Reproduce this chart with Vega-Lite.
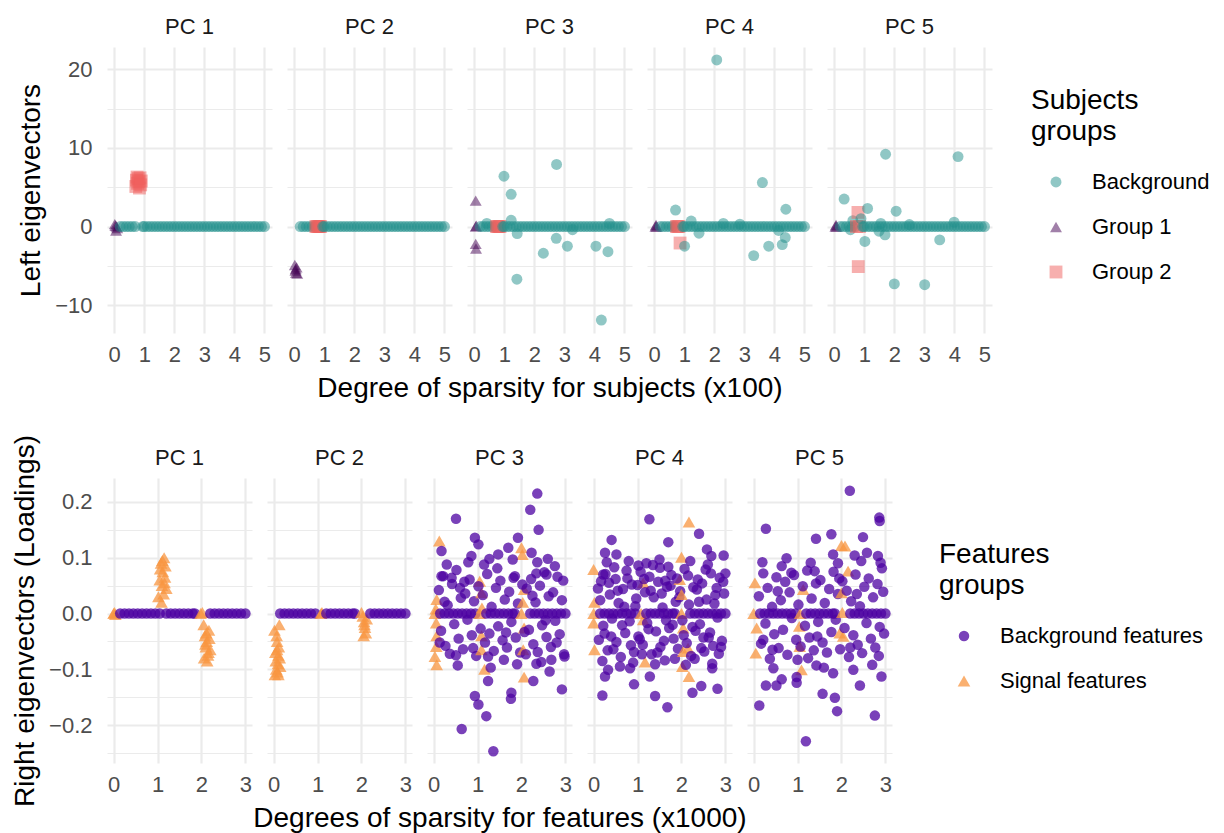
{
"$schema":"https://vega.github.io/schema/vega-lite/v6.json",
"background":"white",
"padding":{"left":11,"top":16,"right":5,"bottom":0},
"config":{
"font":"Liberation Sans",
"view":{"stroke":null},
"axis":{"domain":false,"ticks":false,"tickSize":0,"labelFont":"Liberation Sans","labelFontSize":22,"labelColor":"#4D4D4D","labelPadding":11,"titleFont":"Liberation Sans","titleFontSize":28,"titleFontWeight":"normal","titleColor":"#000000","gridColor":"#EBEBEB","labelOverlap":false},
"axisY":{"labelPadding":15,"titlePadding":9},
"header":{"labelFont":"Liberation Sans","labelFontSize":22,"labelColor":"#1A1A1A","labelPadding":-14,"labelBaseline":"bottom","titleFont":"Liberation Sans","titleFontSize":28,"titleFontWeight":"normal","titleColor":"#000000","titleOrient":"bottom","labelOrient":"top","titlePadding":0},
"legend":{"titleFont":"Liberation Sans","titleFontSize":28,"titleFontWeight":"normal","titleColor":"#000000","titleLineHeight":31,"labelFont":"Liberation Sans","labelFontSize":22,"labelColor":"#000000","labelLimit":300,"symbolSize":110,"rowPadding":23,"titlePadding":25,"symbolOffset":14,"labelOffset":25,"symbolStrokeWidth":0}
},
"columns":1,
"align":"none",
"spacing":31,
"resolve":{"scale":{"color":"independent","shape":"independent","size":"independent"}},
"concat":[
{
"data":{"values":[
{"p":"PC 1","x":0.02,"y":0.3,"c":"1"},{"p":"PC 1","x":0.04,"y":0.1,"c":"1"},{"p":"PC 1","x":0.06,"y":-0.5,"c":"1"},{"p":"PC 1","x":0.08,"y":0,"c":"1"},{"p":"PC 1","x":0.1,"y":-0.2,"c":"1"},
{"p":"PC 1","x":0.2,"y":0,"c":"B"},{"p":"PC 1","x":0.3,"y":0,"c":"B"},{"p":"PC 1","x":0.4,"y":0,"c":"B"},{"p":"PC 1","x":0.5,"y":0,"c":"B"},{"p":"PC 1","x":0.6,"y":0,"c":"B"},{"p":"PC 1","x":0.7,"y":0,"c":"B"},
{"p":"PC 1","x":0.72,"y":5.1,"c":"2"},{"p":"PC 1","x":0.74,"y":5.9,"c":"2"},{"p":"PC 1","x":0.76,"y":6.3,"c":"2"},{"p":"PC 1","x":0.78,"y":5.5,"c":"2"},{"p":"PC 1","x":0.8,"y":6.1,"c":"2"},{"p":"PC 1","x":0.82,"y":5.7,"c":"2"},{"p":"PC 1","x":0.84,"y":4.9,"c":"2"},{"p":"PC 1","x":0.86,"y":6.2,"c":"2"},{"p":"PC 1","x":0.88,"y":5.3,"c":"2"},{"p":"PC 1","x":0.9,"y":5.8,"c":"2"},
{"p":"PC 1","x":0.95,"y":0,"c":"B"},{"p":"PC 1","x":1,"y":0,"c":"B"},{"p":"PC 1","x":1.1,"y":0,"c":"B"},{"p":"PC 1","x":1.2,"y":0,"c":"B"},{"p":"PC 1","x":1.3,"y":0,"c":"B"},{"p":"PC 1","x":1.4,"y":0,"c":"B"},{"p":"PC 1","x":1.5,"y":0,"c":"B"},{"p":"PC 1","x":1.6,"y":0,"c":"B"},{"p":"PC 1","x":1.7,"y":0,"c":"B"},{"p":"PC 1","x":1.8,"y":0,"c":"B"},{"p":"PC 1","x":1.9,"y":0,"c":"B"},{"p":"PC 1","x":2,"y":0,"c":"B"},{"p":"PC 1","x":2.1,"y":0,"c":"B"},{"p":"PC 1","x":2.2,"y":0,"c":"B"},{"p":"PC 1","x":2.3,"y":0,"c":"B"},{"p":"PC 1","x":2.4,"y":0,"c":"B"},{"p":"PC 1","x":2.5,"y":0,"c":"B"},{"p":"PC 1","x":2.6,"y":0,"c":"B"},{"p":"PC 1","x":2.7,"y":0,"c":"B"},{"p":"PC 1","x":2.8,"y":0,"c":"B"},{"p":"PC 1","x":2.9,"y":0,"c":"B"},{"p":"PC 1","x":3,"y":0,"c":"B"},{"p":"PC 1","x":3.1,"y":0,"c":"B"},{"p":"PC 1","x":3.2,"y":0,"c":"B"},{"p":"PC 1","x":3.3,"y":0,"c":"B"},{"p":"PC 1","x":3.4,"y":0,"c":"B"},{"p":"PC 1","x":3.5,"y":0,"c":"B"},{"p":"PC 1","x":3.6,"y":0,"c":"B"},{"p":"PC 1","x":3.7,"y":0,"c":"B"},{"p":"PC 1","x":3.8,"y":0,"c":"B"},{"p":"PC 1","x":3.9,"y":0,"c":"B"},{"p":"PC 1","x":4,"y":0,"c":"B"},{"p":"PC 1","x":4.1,"y":0,"c":"B"},{"p":"PC 1","x":4.2,"y":0,"c":"B"},{"p":"PC 1","x":4.3,"y":0,"c":"B"},{"p":"PC 1","x":4.4,"y":0,"c":"B"},{"p":"PC 1","x":4.5,"y":0,"c":"B"},{"p":"PC 1","x":4.6,"y":0,"c":"B"},{"p":"PC 1","x":4.7,"y":0,"c":"B"},{"p":"PC 1","x":4.8,"y":0,"c":"B"},{"p":"PC 1","x":4.9,"y":0,"c":"B"},{"p":"PC 1","x":5,"y":0,"c":"B"},
{"p":"PC 2","x":0.02,"y":-4.9,"c":"1"},{"p":"PC 2","x":0.04,"y":-5.6,"c":"1"},{"p":"PC 2","x":0.06,"y":-5.9,"c":"1"},{"p":"PC 2","x":0.08,"y":-5.2,"c":"1"},{"p":"PC 2","x":0.1,"y":-6.0,"c":"1"},{"p":"PC 2","x":0.05,"y":-5.4,"c":"1"},
{"p":"PC 2","x":0.2,"y":0,"c":"B"},{"p":"PC 2","x":0.3,"y":0,"c":"B"},{"p":"PC 2","x":0.4,"y":0,"c":"B"},{"p":"PC 2","x":0.5,"y":0,"c":"B"},{"p":"PC 2","x":0.6,"y":0,"c":"B"},{"p":"PC 2","x":0.7,"y":0,"c":"B"},
{"p":"PC 2","x":0.72,"y":0,"c":"2"},{"p":"PC 2","x":0.76,"y":0,"c":"2"},{"p":"PC 2","x":0.8,"y":0,"c":"2"},{"p":"PC 2","x":0.84,"y":0,"c":"2"},{"p":"PC 2","x":0.88,"y":0,"c":"2"},
{"p":"PC 2","x":0.95,"y":0,"c":"B"},{"p":"PC 2","x":1,"y":0,"c":"B"},{"p":"PC 2","x":1.1,"y":0,"c":"B"},{"p":"PC 2","x":1.2,"y":0,"c":"B"},{"p":"PC 2","x":1.3,"y":0,"c":"B"},{"p":"PC 2","x":1.4,"y":0,"c":"B"},{"p":"PC 2","x":1.5,"y":0,"c":"B"},{"p":"PC 2","x":1.6,"y":0,"c":"B"},{"p":"PC 2","x":1.7,"y":0,"c":"B"},{"p":"PC 2","x":1.8,"y":0,"c":"B"},{"p":"PC 2","x":1.9,"y":0,"c":"B"},{"p":"PC 2","x":2,"y":0,"c":"B"},{"p":"PC 2","x":2.1,"y":0,"c":"B"},{"p":"PC 2","x":2.2,"y":0,"c":"B"},{"p":"PC 2","x":2.3,"y":0,"c":"B"},{"p":"PC 2","x":2.4,"y":0,"c":"B"},{"p":"PC 2","x":2.5,"y":0,"c":"B"},{"p":"PC 2","x":2.6,"y":0,"c":"B"},{"p":"PC 2","x":2.7,"y":0,"c":"B"},{"p":"PC 2","x":2.8,"y":0,"c":"B"},{"p":"PC 2","x":2.9,"y":0,"c":"B"},{"p":"PC 2","x":3,"y":0,"c":"B"},{"p":"PC 2","x":3.1,"y":0,"c":"B"},{"p":"PC 2","x":3.2,"y":0,"c":"B"},{"p":"PC 2","x":3.3,"y":0,"c":"B"},{"p":"PC 2","x":3.4,"y":0,"c":"B"},{"p":"PC 2","x":3.5,"y":0,"c":"B"},{"p":"PC 2","x":3.6,"y":0,"c":"B"},{"p":"PC 2","x":3.7,"y":0,"c":"B"},{"p":"PC 2","x":3.8,"y":0,"c":"B"},{"p":"PC 2","x":3.9,"y":0,"c":"B"},{"p":"PC 2","x":4,"y":0,"c":"B"},{"p":"PC 2","x":4.1,"y":0,"c":"B"},{"p":"PC 2","x":4.2,"y":0,"c":"B"},{"p":"PC 2","x":4.3,"y":0,"c":"B"},{"p":"PC 2","x":4.4,"y":0,"c":"B"},{"p":"PC 2","x":4.5,"y":0,"c":"B"},{"p":"PC 2","x":4.6,"y":0,"c":"B"},{"p":"PC 2","x":4.7,"y":0,"c":"B"},{"p":"PC 2","x":4.8,"y":0,"c":"B"},{"p":"PC 2","x":4.9,"y":0,"c":"B"},{"p":"PC 2","x":5,"y":0,"c":"B"},
{"p":"PC 3","x":0.05,"y":3.3,"c":"1"},{"p":"PC 3","x":0.05,"y":-2.2,"c":"1"},{"p":"PC 3","x":0.06,"y":-2.8,"c":"1"},{"p":"PC 3","x":0.05,"y":0,"c":"1"},{"p":"PC 3","x":0.07,"y":0.1,"c":"1"},
{"p":"PC 3","x":0.2,"y":0,"c":"B"},{"p":"PC 3","x":0.3,"y":0,"c":"B"},{"p":"PC 3","x":0.4,"y":0,"c":"B"},{"p":"PC 3","x":0.42,"y":0.4,"c":"B"},{"p":"PC 3","x":0.5,"y":0,"c":"B"},{"p":"PC 3","x":0.6,"y":0,"c":"B"},{"p":"PC 3","x":0.7,"y":0,"c":"B"},
{"p":"PC 3","x":0.74,"y":0,"c":"2"},{"p":"PC 3","x":0.78,"y":0,"c":"2"},{"p":"PC 3","x":0.82,"y":0,"c":"2"},{"p":"PC 3","x":0.86,"y":0,"c":"2"},
{"p":"PC 3","x":0.95,"y":0,"c":"B"},{"p":"PC 3","x":1,"y":0,"c":"B"},{"p":"PC 3","x":1.1,"y":0,"c":"B"},{"p":"PC 3","x":1.2,"y":0,"c":"B"},{"p":"PC 3","x":1.3,"y":0,"c":"B"},{"p":"PC 3","x":1.4,"y":0,"c":"B"},{"p":"PC 3","x":1.5,"y":0,"c":"B"},{"p":"PC 3","x":1.6,"y":0,"c":"B"},{"p":"PC 3","x":1.7,"y":0,"c":"B"},{"p":"PC 3","x":1.8,"y":0,"c":"B"},{"p":"PC 3","x":1.9,"y":0,"c":"B"},{"p":"PC 3","x":2,"y":0,"c":"B"},{"p":"PC 3","x":2.1,"y":0,"c":"B"},{"p":"PC 3","x":2.2,"y":0,"c":"B"},{"p":"PC 3","x":2.3,"y":0,"c":"B"},{"p":"PC 3","x":2.4,"y":0,"c":"B"},{"p":"PC 3","x":2.5,"y":0,"c":"B"},{"p":"PC 3","x":2.6,"y":0,"c":"B"},{"p":"PC 3","x":2.7,"y":0,"c":"B"},{"p":"PC 3","x":2.8,"y":0,"c":"B"},{"p":"PC 3","x":2.9,"y":0,"c":"B"},{"p":"PC 3","x":3,"y":0,"c":"B"},{"p":"PC 3","x":3.1,"y":0,"c":"B"},{"p":"PC 3","x":3.2,"y":0,"c":"B"},{"p":"PC 3","x":3.3,"y":0,"c":"B"},{"p":"PC 3","x":3.4,"y":0,"c":"B"},{"p":"PC 3","x":3.5,"y":0,"c":"B"},{"p":"PC 3","x":3.6,"y":0,"c":"B"},{"p":"PC 3","x":3.7,"y":0,"c":"B"},{"p":"PC 3","x":3.8,"y":0,"c":"B"},{"p":"PC 3","x":3.9,"y":0,"c":"B"},{"p":"PC 3","x":4,"y":0,"c":"B"},{"p":"PC 3","x":4.1,"y":0,"c":"B"},{"p":"PC 3","x":4.2,"y":0,"c":"B"},{"p":"PC 3","x":4.3,"y":0,"c":"B"},{"p":"PC 3","x":4.4,"y":0,"c":"B"},{"p":"PC 3","x":4.5,"y":0,"c":"B"},{"p":"PC 3","x":4.6,"y":0,"c":"B"},{"p":"PC 3","x":4.7,"y":0,"c":"B"},{"p":"PC 3","x":4.8,"y":0,"c":"B"},{"p":"PC 3","x":4.9,"y":0,"c":"B"},{"p":"PC 3","x":5,"y":0,"c":"B"},
{"p":"PC 3","x":0.99,"y":6.4,"c":"B"},{"p":"PC 3","x":1.23,"y":4.1,"c":"B"},{"p":"PC 3","x":1.23,"y":0.8,"c":"B"},{"p":"PC 3","x":1.43,"y":-0.9,"c":"B"},{"p":"PC 3","x":1.42,"y":-6.7,"c":"B"},{"p":"PC 3","x":2.3,"y":-3.4,"c":"B"},{"p":"PC 3","x":2.73,"y":-1.5,"c":"B"},{"p":"PC 3","x":2.74,"y":7.9,"c":"B"},{"p":"PC 3","x":3.1,"y":-2.5,"c":"B"},{"p":"PC 3","x":3.27,"y":-0.4,"c":"B"},{"p":"PC 3","x":4.05,"y":-2.5,"c":"B"},{"p":"PC 3","x":4.23,"y":-11.9,"c":"B"},{"p":"PC 3","x":4.45,"y":-3.2,"c":"B"},{"p":"PC 3","x":4.5,"y":0.4,"c":"B"},
{"p":"PC 4","x":0.04,"y":0,"c":"1"},{"p":"PC 4","x":0.06,"y":0.2,"c":"1"},{"p":"PC 4","x":0.08,"y":0,"c":"1"},
{"p":"PC 4","x":0.2,"y":0,"c":"B"},{"p":"PC 4","x":0.3,"y":0,"c":"B"},{"p":"PC 4","x":0.4,"y":0,"c":"B"},{"p":"PC 4","x":0.5,"y":0,"c":"B"},{"p":"PC 4","x":0.6,"y":0,"c":"B"},{"p":"PC 4","x":0.7,"y":0,"c":"B"},{"p":"PC 4","x":0.71,"y":2.1,"c":"B"},
{"p":"PC 4","x":0.74,"y":0,"c":"2"},{"p":"PC 4","x":0.78,"y":0,"c":"2"},{"p":"PC 4","x":0.82,"y":0,"c":"2"},{"p":"PC 4","x":0.86,"y":-2.1,"c":"2"},
{"p":"PC 4","x":0.95,"y":0,"c":"B"},{"p":"PC 4","x":1,"y":0,"c":"B"},{"p":"PC 4","x":1.1,"y":0,"c":"B"},{"p":"PC 4","x":1.2,"y":0,"c":"B"},{"p":"PC 4","x":1.3,"y":0,"c":"B"},{"p":"PC 4","x":1.4,"y":0,"c":"B"},{"p":"PC 4","x":1.5,"y":0,"c":"B"},{"p":"PC 4","x":1.6,"y":0,"c":"B"},{"p":"PC 4","x":1.7,"y":0,"c":"B"},{"p":"PC 4","x":1.8,"y":0,"c":"B"},{"p":"PC 4","x":1.9,"y":0,"c":"B"},{"p":"PC 4","x":2,"y":0,"c":"B"},{"p":"PC 4","x":2.1,"y":0,"c":"B"},{"p":"PC 4","x":2.2,"y":0,"c":"B"},{"p":"PC 4","x":2.3,"y":0,"c":"B"},{"p":"PC 4","x":2.4,"y":0,"c":"B"},{"p":"PC 4","x":2.5,"y":0,"c":"B"},{"p":"PC 4","x":2.6,"y":0,"c":"B"},{"p":"PC 4","x":2.7,"y":0,"c":"B"},{"p":"PC 4","x":2.8,"y":0,"c":"B"},{"p":"PC 4","x":2.9,"y":0,"c":"B"},{"p":"PC 4","x":3,"y":0,"c":"B"},{"p":"PC 4","x":3.1,"y":0,"c":"B"},{"p":"PC 4","x":3.2,"y":0,"c":"B"},{"p":"PC 4","x":3.3,"y":0,"c":"B"},{"p":"PC 4","x":3.4,"y":0,"c":"B"},{"p":"PC 4","x":3.5,"y":0,"c":"B"},{"p":"PC 4","x":3.6,"y":0,"c":"B"},{"p":"PC 4","x":3.7,"y":0,"c":"B"},{"p":"PC 4","x":3.8,"y":0,"c":"B"},{"p":"PC 4","x":3.9,"y":0,"c":"B"},{"p":"PC 4","x":4,"y":0,"c":"B"},{"p":"PC 4","x":4.1,"y":0,"c":"B"},{"p":"PC 4","x":4.2,"y":0,"c":"B"},{"p":"PC 4","x":4.3,"y":0,"c":"B"},{"p":"PC 4","x":4.4,"y":0,"c":"B"},{"p":"PC 4","x":4.5,"y":0,"c":"B"},{"p":"PC 4","x":4.6,"y":0,"c":"B"},{"p":"PC 4","x":4.7,"y":0,"c":"B"},{"p":"PC 4","x":4.8,"y":0,"c":"B"},{"p":"PC 4","x":4.9,"y":0,"c":"B"},{"p":"PC 4","x":5,"y":0,"c":"B"},
{"p":"PC 4","x":1.01,"y":-2.5,"c":"B"},{"p":"PC 4","x":1.23,"y":0.7,"c":"B"},{"p":"PC 4","x":1.49,"y":-0.85,"c":"B"},{"p":"PC 4","x":2.08,"y":21.2,"c":"B"},{"p":"PC 4","x":2.3,"y":0.4,"c":"B"},{"p":"PC 4","x":2.85,"y":0.3,"c":"B"},{"p":"PC 4","x":3.31,"y":-3.7,"c":"B"},{"p":"PC 4","x":3.6,"y":5.6,"c":"B"},{"p":"PC 4","x":3.81,"y":-2.5,"c":"B"},{"p":"PC 4","x":4.14,"y":-0.5,"c":"B"},{"p":"PC 4","x":4.26,"y":-2.3,"c":"B"},{"p":"PC 4","x":4.36,"y":-1.4,"c":"B"},{"p":"PC 4","x":4.38,"y":2.2,"c":"B"},
{"p":"PC 5","x":0.04,"y":0,"c":"1"},{"p":"PC 5","x":0.06,"y":0.2,"c":"1"},{"p":"PC 5","x":0.08,"y":0,"c":"1"},
{"p":"PC 5","x":0.2,"y":0,"c":"B"},{"p":"PC 5","x":0.3,"y":0,"c":"B"},{"p":"PC 5","x":0.33,"y":3.5,"c":"B"},{"p":"PC 5","x":0.4,"y":0,"c":"B"},{"p":"PC 5","x":0.5,"y":0,"c":"B"},{"p":"PC 5","x":0.54,"y":-0.4,"c":"B"},{"p":"PC 5","x":0.6,"y":0,"c":"B"},{"p":"PC 5","x":0.62,"y":0.75,"c":"B"},{"p":"PC 5","x":0.7,"y":0,"c":"B"},
{"p":"PC 5","x":0.74,"y":0,"c":"2"},{"p":"PC 5","x":0.79,"y":1.8,"c":"2"},{"p":"PC 5","x":0.8,"y":-5.1,"c":"2"},{"p":"PC 5","x":0.84,"y":0,"c":"2"},
{"p":"PC 5","x":0.95,"y":0,"c":"B"},{"p":"PC 5","x":1,"y":0,"c":"B"},{"p":"PC 5","x":1.1,"y":0,"c":"B"},{"p":"PC 5","x":1.2,"y":0,"c":"B"},{"p":"PC 5","x":1.3,"y":0,"c":"B"},{"p":"PC 5","x":1.4,"y":0,"c":"B"},{"p":"PC 5","x":1.5,"y":0,"c":"B"},{"p":"PC 5","x":1.6,"y":0,"c":"B"},{"p":"PC 5","x":1.7,"y":0,"c":"B"},{"p":"PC 5","x":1.8,"y":0,"c":"B"},{"p":"PC 5","x":1.9,"y":0,"c":"B"},{"p":"PC 5","x":2,"y":0,"c":"B"},{"p":"PC 5","x":2.1,"y":0,"c":"B"},{"p":"PC 5","x":2.2,"y":0,"c":"B"},{"p":"PC 5","x":2.3,"y":0,"c":"B"},{"p":"PC 5","x":2.4,"y":0,"c":"B"},{"p":"PC 5","x":2.5,"y":0,"c":"B"},{"p":"PC 5","x":2.6,"y":0,"c":"B"},{"p":"PC 5","x":2.7,"y":0,"c":"B"},{"p":"PC 5","x":2.8,"y":0,"c":"B"},{"p":"PC 5","x":2.9,"y":0,"c":"B"},{"p":"PC 5","x":3,"y":0,"c":"B"},{"p":"PC 5","x":3.1,"y":0,"c":"B"},{"p":"PC 5","x":3.2,"y":0,"c":"B"},{"p":"PC 5","x":3.3,"y":0,"c":"B"},{"p":"PC 5","x":3.4,"y":0,"c":"B"},{"p":"PC 5","x":3.5,"y":0,"c":"B"},{"p":"PC 5","x":3.6,"y":0,"c":"B"},{"p":"PC 5","x":3.7,"y":0,"c":"B"},{"p":"PC 5","x":3.8,"y":0,"c":"B"},{"p":"PC 5","x":3.9,"y":0,"c":"B"},{"p":"PC 5","x":4,"y":0,"c":"B"},{"p":"PC 5","x":4.1,"y":0,"c":"B"},{"p":"PC 5","x":4.2,"y":0,"c":"B"},{"p":"PC 5","x":4.3,"y":0,"c":"B"},{"p":"PC 5","x":4.4,"y":0,"c":"B"},{"p":"PC 5","x":4.5,"y":0,"c":"B"},{"p":"PC 5","x":4.6,"y":0,"c":"B"},{"p":"PC 5","x":4.7,"y":0,"c":"B"},{"p":"PC 5","x":4.8,"y":0,"c":"B"},{"p":"PC 5","x":4.9,"y":0,"c":"B"},{"p":"PC 5","x":5,"y":0,"c":"B"},
{"p":"PC 5","x":0.89,"y":1.0,"c":"B"},{"p":"PC 5","x":1.02,"y":-1.9,"c":"B"},{"p":"PC 5","x":1.11,"y":2.3,"c":"B"},{"p":"PC 5","x":1.49,"y":-0.6,"c":"B"},{"p":"PC 5","x":1.55,"y":0.4,"c":"B"},{"p":"PC 5","x":1.69,"y":-1.06,"c":"B"},{"p":"PC 5","x":1.71,"y":9.2,"c":"B"},{"p":"PC 5","x":2.0,"y":-7.3,"c":"B"},{"p":"PC 5","x":2.06,"y":1.95,"c":"B"},{"p":"PC 5","x":2.5,"y":0.25,"c":"B"},{"p":"PC 5","x":3.01,"y":-7.4,"c":"B"},{"p":"PC 5","x":3.51,"y":-1.7,"c":"B"},{"p":"PC 5","x":3.99,"y":0.55,"c":"B"},{"p":"PC 5","x":4.12,"y":8.9,"c":"B"}
]},
"transform":[{"lookup":"c","from":{"data":{"values":[{"c":"B","group":"Background"},{"c":"1","group":"Group 1"},{"c":"2","group":"Group 2"}]},"key":"c","fields":["group"]}}],
"facet":{"column":{"field":"p","type":"nominal","title":"Degree of sparsity for subjects (x100)"}},
"spacing":15,
"spec":{
"width":165,"height":286,
"mark":{"type":"point","filled":true,"opacity":0.5},
"encoding":{
"x":{"field":"x","type":"quantitative","scale":{"domain":[-0.24,5.25],"nice":false,"zero":false},"axis":{"title":null,"values":[0,0.5,1,1.5,2,2.5,3,3.5,4,4.5,5],"format":"d","labelExpr":"datum.value % 1 === 0 ? datum.label : ''","gridWidth":{"condition":{"test":"datum.value % 1 !== 0","value":1.2},"value":2.2}}},
"y":{"field":"y","type":"quantitative","scale":{"domain":[-13.55,22.85],"nice":false,"zero":false},"axis":{"title":"Left eigenvectors","values":[-10,-5,0,5,10,15,20],"format":"d","labelExpr":"datum.value % 10 === 0 ? datum.label : ''","gridWidth":{"condition":{"test":"datum.value % 10 !== 0","value":1.2},"value":2.2}}},
"color":{"field":"group","type":"nominal","scale":{"domain":["Background","Group 1","Group 2"],"range":["#21908C","#440154","#F0605E"]},"legend":{"title":["Subjects","groups"],"orient":"none","legendX":924,"legendY":40}},
"shape":{"field":"group","type":"nominal","scale":{"domain":["Background","Group 1","Group 2"],"range":["circle","triangle-up","square"]},"legend":{"title":["Subjects","groups"],"orient":"none","legendX":924,"legendY":40}},
"size":{"field":"group","type":"nominal","scale":{"domain":["Background","Group 1","Group 2"],"range":[120,165,115]},"legend":null}
}
}
},
{
"data":{"values":[
{"p":"PC 1","x":0,"y":0,"c":"S"},{"p":"PC 1","x":0.02,"y":0.002,"c":"S"},{"p":"PC 1","x":0.04,"y":-0.002,"c":"S"},
{"p":"PC 1","x":0.15,"y":0,"c":"B"},{"p":"PC 1","x":0.25,"y":0,"c":"B"},{"p":"PC 1","x":0.35,"y":0,"c":"B"},{"p":"PC 1","x":0.45,"y":0,"c":"B"},{"p":"PC 1","x":0.55,"y":0,"c":"B"},{"p":"PC 1","x":0.65,"y":0,"c":"B"},{"p":"PC 1","x":0.75,"y":0,"c":"B"},{"p":"PC 1","x":0.85,"y":0,"c":"B"},{"p":"PC 1","x":0.95,"y":0,"c":"B"},{"p":"PC 1","x":1.05,"y":0,"c":"B"},
{"p":"PC 1","x":1.02,"y":0.03,"c":"S"},{"p":"PC 1","x":1.05,"y":0.06,"c":"S"},{"p":"PC 1","x":1.06,"y":0.08,"c":"S"},{"p":"PC 1","x":1.08,"y":0.09,"c":"S"},{"p":"PC 1","x":1.09,"y":0.02,"c":"S"},{"p":"PC 1","x":1.1,"y":0.05,"c":"S"},{"p":"PC 1","x":1.11,"y":0.095,"c":"S"},{"p":"PC 1","x":1.12,"y":0.075,"c":"S"},{"p":"PC 1","x":1.14,"y":0.035,"c":"S"},{"p":"PC 1","x":1.15,"y":0.1,"c":"S"},{"p":"PC 1","x":1.16,"y":0.055,"c":"S"},{"p":"PC 1","x":1.17,"y":0.065,"c":"S"},{"p":"PC 1","x":1.18,"y":0.085,"c":"S"},{"p":"PC 1","x":1.2,"y":0.045,"c":"S"},
{"p":"PC 1","x":1.2,"y":0,"c":"B"},{"p":"PC 1","x":1.3,"y":0,"c":"B"},{"p":"PC 1","x":1.4,"y":0,"c":"B"},{"p":"PC 1","x":1.5,"y":0,"c":"B"},{"p":"PC 1","x":1.6,"y":0,"c":"B"},{"p":"PC 1","x":1.7,"y":0,"c":"B"},{"p":"PC 1","x":1.8,"y":0,"c":"B"},{"p":"PC 1","x":1.85,"y":0,"c":"B"},
{"p":"PC 1","x":1.98,"y":0,"c":"S"},{"p":"PC 1","x":2.02,"y":0.002,"c":"S"},{"p":"PC 1","x":2.05,"y":-0.02,"c":"S"},{"p":"PC 1","x":2.06,"y":-0.08,"c":"S"},{"p":"PC 1","x":2.08,"y":-0.04,"c":"S"},{"p":"PC 1","x":2.09,"y":-0.055,"c":"S"},{"p":"PC 1","x":2.1,"y":-0.06,"c":"S"},{"p":"PC 1","x":2.11,"y":-0.035,"c":"S"},{"p":"PC 1","x":2.12,"y":-0.05,"c":"S"},{"p":"PC 1","x":2.13,"y":-0.085,"c":"S"},{"p":"PC 1","x":2.15,"y":-0.075,"c":"S"},{"p":"PC 1","x":2.16,"y":-0.07,"c":"S"},{"p":"PC 1","x":2.17,"y":-0.03,"c":"S"},{"p":"PC 1","x":2.18,"y":-0.045,"c":"S"},{"p":"PC 1","x":2.2,"y":-0.065,"c":"S"},
{"p":"PC 1","x":2.2,"y":0,"c":"B"},{"p":"PC 1","x":2.3,"y":0,"c":"B"},{"p":"PC 1","x":2.4,"y":0,"c":"B"},{"p":"PC 1","x":2.5,"y":0,"c":"B"},{"p":"PC 1","x":2.6,"y":0,"c":"B"},{"p":"PC 1","x":2.7,"y":0,"c":"B"},{"p":"PC 1","x":2.8,"y":0,"c":"B"},{"p":"PC 1","x":2.9,"y":0,"c":"B"},{"p":"PC 1","x":3,"y":0,"c":"B"},
{"p":"PC 2","x":0.02,"y":-0.03,"c":"S"},{"p":"PC 2","x":0.03,"y":-0.11,"c":"S"},{"p":"PC 2","x":0.04,"y":-0.07,"c":"S"},{"p":"PC 2","x":0.05,"y":-0.085,"c":"S"},{"p":"PC 2","x":0.06,"y":-0.1,"c":"S"},{"p":"PC 2","x":0.07,"y":-0.04,"c":"S"},{"p":"PC 2","x":0.08,"y":-0.05,"c":"S"},{"p":"PC 2","x":0.09,"y":-0.105,"c":"S"},{"p":"PC 2","x":0.1,"y":-0.09,"c":"S"},{"p":"PC 2","x":0.11,"y":-0.075,"c":"S"},{"p":"PC 2","x":0.12,"y":-0.06,"c":"S"},{"p":"PC 2","x":0.13,"y":-0.02,"c":"S"},{"p":"PC 2","x":0.14,"y":-0.08,"c":"S"},{"p":"PC 2","x":0.15,"y":-0.095,"c":"S"},{"p":"PC 2","x":0.08,"y":-0.065,"c":"S"},{"p":"PC 2","x":0.11,"y":-0.11,"c":"S"},
{"p":"PC 2","x":0.15,"y":0,"c":"B"},{"p":"PC 2","x":0.25,"y":0,"c":"B"},{"p":"PC 2","x":0.35,"y":0,"c":"B"},{"p":"PC 2","x":0.45,"y":0,"c":"B"},{"p":"PC 2","x":0.55,"y":0,"c":"B"},{"p":"PC 2","x":0.65,"y":0,"c":"B"},{"p":"PC 2","x":0.75,"y":0,"c":"B"},{"p":"PC 2","x":0.85,"y":0,"c":"B"},{"p":"PC 2","x":0.95,"y":0,"c":"B"},
{"p":"PC 2","x":1.08,"y":0,"c":"S"},{"p":"PC 2","x":1.1,"y":0.002,"c":"S"},
{"p":"PC 2","x":1.2,"y":0,"c":"B"},{"p":"PC 2","x":1.3,"y":0,"c":"B"},{"p":"PC 2","x":1.4,"y":0,"c":"B"},{"p":"PC 2","x":1.5,"y":0,"c":"B"},{"p":"PC 2","x":1.6,"y":0,"c":"B"},{"p":"PC 2","x":1.7,"y":0,"c":"B"},{"p":"PC 2","x":1.8,"y":0,"c":"B"},{"p":"PC 2","x":1.85,"y":0,"c":"B"},
{"p":"PC 2","x":2.0,"y":0.002,"c":"S"},{"p":"PC 2","x":2.03,"y":-0.005,"c":"S"},{"p":"PC 2","x":2.05,"y":-0.04,"c":"S"},{"p":"PC 2","x":2.06,"y":-0.015,"c":"S"},{"p":"PC 2","x":2.07,"y":-0.02,"c":"S"},{"p":"PC 2","x":2.08,"y":-0.025,"c":"S"},{"p":"PC 2","x":2.1,"y":-0.035,"c":"S"},{"p":"PC 2","x":2.12,"y":-0.01,"c":"S"},
{"p":"PC 2","x":2.2,"y":0,"c":"B"},{"p":"PC 2","x":2.3,"y":0,"c":"B"},{"p":"PC 2","x":2.4,"y":0,"c":"B"},{"p":"PC 2","x":2.5,"y":0,"c":"B"},{"p":"PC 2","x":2.6,"y":0,"c":"B"},{"p":"PC 2","x":2.7,"y":0,"c":"B"},{"p":"PC 2","x":2.8,"y":0,"c":"B"},{"p":"PC 2","x":2.9,"y":0,"c":"B"},{"p":"PC 2","x":3,"y":0,"c":"B"},
{"p":"PC 3","x":0.03,"y":-0.077,"c":"S"},{"p":"PC 3","x":0.07,"y":0.025,"c":"S"},{"p":"PC 3","x":0.05,"y":0.008,"c":"S"},{"p":"PC 3","x":0.06,"y":-0.017,"c":"S"},{"p":"PC 3","x":0.07,"y":-0.04,"c":"S"},{"p":"PC 3","x":0.06,"y":-0.059,"c":"S"},{"p":"PC 3","x":0.07,"y":-0.092,"c":"S"},{"p":"PC 3","x":0.13,"y":0.13,"c":"S"},{"p":"PC 3","x":0.03,"y":0,"c":"S"},
{"p":"PC 3","x":0.12,"y":0.042,"c":"B"},{"p":"PC 3","x":0.17,"y":-0.031,"c":"B"},{"p":"PC 3","x":0.22,"y":0.067,"c":"B"},{"p":"PC 3","x":0.27,"y":-0.058,"c":"B"},{"p":"PC 3","x":0.32,"y":0.015,"c":"B"},{"p":"PC 3","x":0.37,"y":-0.072,"c":"B"},{"p":"PC 3","x":0.42,"y":0.053,"c":"B"},{"p":"PC 3","x":0.47,"y":-0.019,"c":"B"},{"p":"PC 3","x":0.52,"y":0.078,"c":"B"},{"p":"PC 3","x":0.57,"y":-0.045,"c":"B"},{"p":"PC 3","x":0.62,"y":0.028,"c":"B"},{"p":"PC 3","x":0.67,"y":-0.064,"c":"B"},{"p":"PC 3","x":0.72,"y":0.036,"c":"B"},{"p":"PC 3","x":0.77,"y":-0.011,"c":"B"},{"p":"PC 3","x":0.82,"y":0.061,"c":"B"},{"p":"PC 3","x":0.87,"y":-0.039,"c":"B"},{"p":"PC 3","x":0.92,"y":0.022,"c":"B"},{"p":"PC 3","x":0.97,"y":-0.076,"c":"B"},
{"p":"PC 3","x":0.15,"y":0,"c":"B"},{"p":"PC 3","x":0.25,"y":0,"c":"B"},{"p":"PC 3","x":0.35,"y":0,"c":"B"},{"p":"PC 3","x":0.45,"y":0,"c":"B"},{"p":"PC 3","x":0.55,"y":0,"c":"B"},{"p":"PC 3","x":0.65,"y":0,"c":"B"},{"p":"PC 3","x":0.75,"y":0,"c":"B"},{"p":"PC 3","x":0.85,"y":0,"c":"B"},{"p":"PC 3","x":0.95,"y":0,"c":"B"},
{"p":"PC 3","x":1.05,"y":0.058,"c":"S"},{"p":"PC 3","x":1.09,"y":0.037,"c":"S"},{"p":"PC 3","x":1.05,"y":0,"c":"S"},{"p":"PC 3","x":1.09,"y":-0.04,"c":"S"},{"p":"PC 3","x":1.09,"y":-0.065,"c":"S"},{"p":"PC 3","x":1.16,"y":-0.1,"c":"S"},{"p":"PC 3","x":1.1,"y":0.01,"c":"S"},
{"p":"PC 3","x":1.02,"y":0.049,"c":"B"},{"p":"PC 3","x":1.07,"y":-0.027,"c":"B"},{"p":"PC 3","x":1.12,"y":0.033,"c":"B"},{"p":"PC 3","x":1.17,"y":-0.052,"c":"B"},{"p":"PC 3","x":1.22,"y":0.071,"c":"B"},{"p":"PC 3","x":1.27,"y":-0.036,"c":"B"},{"p":"PC 3","x":1.32,"y":0.012,"c":"B"},{"p":"PC 3","x":1.37,"y":-0.067,"c":"B"},{"p":"PC 3","x":1.42,"y":0.046,"c":"B"},{"p":"PC 3","x":1.47,"y":-0.023,"c":"B"},{"p":"PC 3","x":1.52,"y":0.059,"c":"B"},{"p":"PC 3","x":1.57,"y":-0.048,"c":"B"},{"p":"PC 3","x":1.62,"y":0.025,"c":"B"},{"p":"PC 3","x":1.67,"y":-0.061,"c":"B"},{"p":"PC 3","x":1.72,"y":0.039,"c":"B"},{"p":"PC 3","x":1.77,"y":-0.015,"c":"B"},{"p":"PC 3","x":1.82,"y":0.064,"c":"B"},{"p":"PC 3","x":1.87,"y":-0.043,"c":"B"},{"p":"PC 3","x":1.92,"y":0.018,"c":"B"},{"p":"PC 3","x":1.97,"y":-0.07,"c":"B"},
{"p":"PC 3","x":1.2,"y":0,"c":"B"},{"p":"PC 3","x":1.3,"y":0,"c":"B"},{"p":"PC 3","x":1.4,"y":0,"c":"B"},{"p":"PC 3","x":1.5,"y":0,"c":"B"},{"p":"PC 3","x":1.6,"y":0,"c":"B"},{"p":"PC 3","x":1.7,"y":0,"c":"B"},{"p":"PC 3","x":1.8,"y":0,"c":"B"},{"p":"PC 3","x":1.85,"y":0,"c":"B"},
{"p":"PC 3","x":2.0,"y":0.118,"c":"S"},{"p":"PC 3","x":2.02,"y":0.106,"c":"S"},{"p":"PC 3","x":2.06,"y":0.043,"c":"S"},{"p":"PC 3","x":2.0,"y":0,"c":"S"},{"p":"PC 3","x":2.06,"y":-0.026,"c":"S"},{"p":"PC 3","x":2.04,"y":-0.065,"c":"S"},{"p":"PC 3","x":2.06,"y":-0.114,"c":"S"},{"p":"PC 3","x":2.03,"y":0.02,"c":"S"},
{"p":"PC 3","x":2.02,"y":0.052,"c":"B"},{"p":"PC 3","x":2.07,"y":-0.033,"c":"B"},{"p":"PC 3","x":2.12,"y":0.045,"c":"B"},{"p":"PC 3","x":2.17,"y":-0.029,"c":"B"},{"p":"PC 3","x":2.22,"y":0.062,"c":"B"},{"p":"PC 3","x":2.27,"y":-0.055,"c":"B"},{"p":"PC 3","x":2.32,"y":0.02,"c":"B"},{"p":"PC 3","x":2.37,"y":-0.069,"c":"B"},{"p":"PC 3","x":2.42,"y":0.05,"c":"B"},{"p":"PC 3","x":2.47,"y":-0.021,"c":"B"},{"p":"PC 3","x":2.52,"y":0.074,"c":"B"},{"p":"PC 3","x":2.57,"y":-0.042,"c":"B"},{"p":"PC 3","x":2.62,"y":0.031,"c":"B"},{"p":"PC 3","x":2.67,"y":-0.06,"c":"B"},{"p":"PC 3","x":2.72,"y":0.038,"c":"B"},{"p":"PC 3","x":2.77,"y":-0.013,"c":"B"},{"p":"PC 3","x":2.82,"y":0.066,"c":"B"},{"p":"PC 3","x":2.87,"y":-0.037,"c":"B"},{"p":"PC 3","x":2.92,"y":0.024,"c":"B"},{"p":"PC 3","x":2.97,"y":-0.073,"c":"B"},
{"p":"PC 3","x":2.2,"y":0,"c":"B"},{"p":"PC 3","x":2.3,"y":0,"c":"B"},{"p":"PC 3","x":2.4,"y":0,"c":"B"},{"p":"PC 3","x":2.5,"y":0,"c":"B"},{"p":"PC 3","x":2.6,"y":0,"c":"B"},{"p":"PC 3","x":2.7,"y":0,"c":"B"},{"p":"PC 3","x":2.8,"y":0,"c":"B"},{"p":"PC 3","x":2.9,"y":0,"c":"B"},{"p":"PC 3","x":3,"y":0,"c":"B"},
{"p":"PC 3","x":2.36,"y":0.215,"c":"B"},{"p":"PC 3","x":2.2,"y":0.186,"c":"B"},{"p":"PC 3","x":2.39,"y":0.15,"c":"B"},{"p":"PC 3","x":0.51,"y":0.17,"c":"B"},{"p":"PC 3","x":0.18,"y":0.112,"c":"B"},{"p":"PC 3","x":0.94,"y":0.136,"c":"B"},{"p":"PC 3","x":1.02,"y":0.124,"c":"B"},{"p":"PC 3","x":1.92,"y":0.136,"c":"B"},{"p":"PC 3","x":2.23,"y":0.109,"c":"B"},{"p":"PC 3","x":2.36,"y":0.092,"c":"B"},{"p":"PC 3","x":2.34,"y":0.072,"c":"B"},{"p":"PC 3","x":1.7,"y":0.118,"c":"B"},{"p":"PC 3","x":1.47,"y":0.106,"c":"B"},{"p":"PC 3","x":1.27,"y":0.098,"c":"B"},{"p":"PC 3","x":0.86,"y":0.103,"c":"B"},{"p":"PC 3","x":0.79,"y":0.092,"c":"B"},{"p":"PC 3","x":0.18,"y":0.067,"c":"B"},{"p":"PC 3","x":0.41,"y":0.064,"c":"B"},{"p":"PC 3","x":1.85,"y":0.067,"c":"B"},{"p":"PC 3","x":2.76,"y":0.085,"c":"B"},{"p":"PC 3","x":2.57,"y":0.07,"c":"B"},{"p":"PC 3","x":0.94,"y":-0.148,"c":"B"},{"p":"PC 3","x":1.02,"y":-0.163,"c":"B"},{"p":"PC 3","x":1.2,"y":-0.184,"c":"B"},{"p":"PC 3","x":0.64,"y":-0.207,"c":"B"},{"p":"PC 3","x":1.36,"y":-0.247,"c":"B"},{"p":"PC 3","x":1.77,"y":-0.142,"c":"B"},{"p":"PC 3","x":1.76,"y":-0.153,"c":"B"},{"p":"PC 3","x":1.24,"y":-0.121,"c":"B"},{"p":"PC 3","x":2.27,"y":-0.121,"c":"B"},{"p":"PC 3","x":2.92,"y":-0.136,"c":"B"},{"p":"PC 3","x":2.64,"y":-0.104,"c":"B"},{"p":"PC 3","x":2.34,"y":-0.09,"c":"B"},{"p":"PC 3","x":1.24,"y":-0.077,"c":"B"},{"p":"PC 3","x":0.51,"y":-0.075,"c":"B"},{"p":"PC 3","x":1.6,"y":-0.083,"c":"B"},{"p":"PC 3","x":2.98,"y":-0.077,"c":"B"},{"p":"PC 3","x":2.68,"y":-0.083,"c":"B"},
{"p":"PC 3","x":0.14,"y":-0.052,"c":"B"},{"p":"PC 3","x":0.3,"y":0.088,"c":"B"},{"p":"PC 3","x":0.55,"y":-0.093,"c":"B"},{"p":"PC 3","x":0.7,"y":0.057,"c":"B"},{"p":"PC 3","x":0.9,"y":-0.062,"c":"B"},{"p":"PC 3","x":1.15,"y":0.088,"c":"B"},{"p":"PC 3","x":1.3,"y":-0.097,"c":"B"},{"p":"PC 3","x":1.45,"y":0.081,"c":"B"},{"p":"PC 3","x":1.65,"y":-0.034,"c":"B"},{"p":"PC 3","x":1.8,"y":0.097,"c":"B"},{"p":"PC 3","x":2.1,"y":-0.073,"c":"B"},{"p":"PC 3","x":2.25,"y":0.032,"c":"B"},{"p":"PC 3","x":2.45,"y":-0.087,"c":"B"},{"p":"PC 3","x":2.6,"y":0.098,"c":"B"},{"p":"PC 3","x":2.8,"y":-0.052,"c":"B"},{"p":"PC 3","x":2.95,"y":0.059,"c":"B"},{"p":"PC 3","x":0.25,"y":0.021,"c":"B"},{"p":"PC 3","x":1.9,"y":-0.091,"c":"B"},{"p":"PC 3","x":2.55,"y":-0.012,"c":"B"},{"p":"PC 3","x":0.6,"y":0.046,"c":"B"},
{"p":"PC 4","x":0,"y":0.079,"c":"S"},{"p":"PC 4","x":0.02,"y":-0.065,"c":"S"},{"p":"PC 4","x":0,"y":0,"c":"S"},{"p":"PC 4","x":0,"y":-0.017,"c":"S"},{"p":"PC 4","x":0.02,"y":0.02,"c":"S"},
{"p":"PC 4","x":0.12,"y":-0.047,"c":"B"},{"p":"PC 4","x":0.17,"y":0.058,"c":"B"},{"p":"PC 4","x":0.22,"y":-0.022,"c":"B"},{"p":"PC 4","x":0.27,"y":0.071,"c":"B"},{"p":"PC 4","x":0.32,"y":-0.066,"c":"B"},{"p":"PC 4","x":0.37,"y":0.034,"c":"B"},{"p":"PC 4","x":0.42,"y":-0.009,"c":"B"},{"p":"PC 4","x":0.47,"y":0.083,"c":"B"},{"p":"PC 4","x":0.52,"y":-0.051,"c":"B"},{"p":"PC 4","x":0.57,"y":0.019,"c":"B"},{"p":"PC 4","x":0.62,"y":-0.078,"c":"B"},{"p":"PC 4","x":0.67,"y":0.044,"c":"B"},{"p":"PC 4","x":0.72,"y":-0.035,"c":"B"},{"p":"PC 4","x":0.77,"y":0.063,"c":"B"},{"p":"PC 4","x":0.82,"y":-0.014,"c":"B"},{"p":"PC 4","x":0.87,"y":0.052,"c":"B"},{"p":"PC 4","x":0.92,"y":-0.069,"c":"B"},{"p":"PC 4","x":0.97,"y":0.027,"c":"B"},
{"p":"PC 4","x":0.15,"y":0.024,"c":"B"},{"p":"PC 4","x":0.25,"y":-0.036,"c":"B"},{"p":"PC 4","x":0.35,"y":0.055,"c":"B"},{"p":"PC 4","x":0.45,"y":-0.064,"c":"B"},{"p":"PC 4","x":0.55,"y":0.041,"c":"B"},{"p":"PC 4","x":0.65,"y":-0.021,"c":"B"},{"p":"PC 4","x":0.75,"y":0.077,"c":"B"},{"p":"PC 4","x":0.85,"y":-0.057,"c":"B"},{"p":"PC 4","x":0.95,"y":0.013,"c":"B"},
{"p":"PC 4","x":0.15,"y":0,"c":"B"},{"p":"PC 4","x":0.25,"y":0,"c":"B"},{"p":"PC 4","x":0.35,"y":0,"c":"B"},{"p":"PC 4","x":0.45,"y":0,"c":"B"},{"p":"PC 4","x":0.55,"y":0,"c":"B"},{"p":"PC 4","x":0.65,"y":0,"c":"B"},{"p":"PC 4","x":0.75,"y":0,"c":"B"},{"p":"PC 4","x":0.85,"y":0,"c":"B"},{"p":"PC 4","x":0.95,"y":0,"c":"B"},
{"p":"PC 4","x":1.13,"y":0.055,"c":"S"},{"p":"PC 4","x":1.17,"y":-0.087,"c":"S"},{"p":"PC 4","x":1.13,"y":-0.011,"c":"S"},{"p":"PC 4","x":1.08,"y":0,"c":"S"},
{"p":"PC 4","x":1.02,"y":-0.041,"c":"B"},{"p":"PC 4","x":1.07,"y":0.075,"c":"B"},{"p":"PC 4","x":1.12,"y":-0.056,"c":"B"},{"p":"PC 4","x":1.17,"y":0.038,"c":"B"},{"p":"PC 4","x":1.22,"y":-0.017,"c":"B"},{"p":"PC 4","x":1.27,"y":0.066,"c":"B"},{"p":"PC 4","x":1.32,"y":-0.073,"c":"B"},{"p":"PC 4","x":1.37,"y":0.029,"c":"B"},{"p":"PC 4","x":1.42,"y":-0.032,"c":"B"},{"p":"PC 4","x":1.47,"y":0.057,"c":"B"},{"p":"PC 4","x":1.52,"y":-0.06,"c":"B"},{"p":"PC 4","x":1.57,"y":0.011,"c":"B"},{"p":"PC 4","x":1.62,"y":-0.084,"c":"B"},{"p":"PC 4","x":1.67,"y":0.048,"c":"B"},{"p":"PC 4","x":1.72,"y":-0.026,"c":"B"},{"p":"PC 4","x":1.77,"y":0.069,"c":"B"},{"p":"PC 4","x":1.82,"y":-0.045,"c":"B"},{"p":"PC 4","x":1.87,"y":0.021,"c":"B"},{"p":"PC 4","x":1.92,"y":-0.063,"c":"B"},{"p":"PC 4","x":1.97,"y":0.04,"c":"B"},
{"p":"PC 4","x":1.05,"y":-0.046,"c":"B"},{"p":"PC 4","x":1.15,"y":0.062,"c":"B"},{"p":"PC 4","x":1.25,"y":-0.028,"c":"B"},{"p":"PC 4","x":1.35,"y":0.087,"c":"B"},{"p":"PC 4","x":1.45,"y":-0.07,"c":"B"},{"p":"PC 4","x":1.55,"y":0.036,"c":"B"},{"p":"PC 4","x":1.65,"y":-0.012,"c":"B"},{"p":"PC 4","x":1.75,"y":0.05,"c":"B"},{"p":"PC 4","x":1.85,"y":-0.081,"c":"B"},{"p":"PC 4","x":1.95,"y":0.029,"c":"B"},
{"p":"PC 4","x":1.2,"y":0,"c":"B"},{"p":"PC 4","x":1.3,"y":0,"c":"B"},{"p":"PC 4","x":1.4,"y":0,"c":"B"},{"p":"PC 4","x":1.5,"y":0,"c":"B"},{"p":"PC 4","x":1.6,"y":0,"c":"B"},{"p":"PC 4","x":1.7,"y":0,"c":"B"},{"p":"PC 4","x":1.8,"y":0,"c":"B"},{"p":"PC 4","x":1.85,"y":0,"c":"B"},
{"p":"PC 4","x":2.17,"y":0.164,"c":"S"},{"p":"PC 4","x":2.0,"y":0.101,"c":"S"},{"p":"PC 4","x":1.96,"y":0.061,"c":"S"},{"p":"PC 4","x":2.17,"y":-0.113,"c":"S"},{"p":"PC 4","x":2.02,"y":-0.095,"c":"S"},{"p":"PC 4","x":2.15,"y":-0.062,"c":"S"},{"p":"PC 4","x":2.04,"y":-0.068,"c":"S"},{"p":"PC 4","x":2.0,"y":0,"c":"S"},{"p":"PC 4","x":2.0,"y":0.034,"c":"S"},{"p":"PC 4","x":2.04,"y":-0.026,"c":"S"},
{"p":"PC 4","x":2.02,"y":-0.012,"c":"B"},{"p":"PC 4","x":2.07,"y":0.08,"c":"B"},{"p":"PC 4","x":2.12,"y":-0.053,"c":"B"},{"p":"PC 4","x":2.17,"y":0.016,"c":"B"},{"p":"PC 4","x":2.22,"y":-0.076,"c":"B"},{"p":"PC 4","x":2.27,"y":0.047,"c":"B"},{"p":"PC 4","x":2.32,"y":-0.031,"c":"B"},{"p":"PC 4","x":2.37,"y":0.061,"c":"B"},{"p":"PC 4","x":2.42,"y":-0.019,"c":"B"},{"p":"PC 4","x":2.47,"y":0.054,"c":"B"},{"p":"PC 4","x":2.52,"y":-0.068,"c":"B"},{"p":"PC 4","x":2.57,"y":0.025,"c":"B"},{"p":"PC 4","x":2.62,"y":-0.043,"c":"B"},{"p":"PC 4","x":2.67,"y":0.072,"c":"B"},{"p":"PC 4","x":2.72,"y":-0.058,"c":"B"},{"p":"PC 4","x":2.77,"y":0.033,"c":"B"},{"p":"PC 4","x":2.82,"y":-0.007,"c":"B"},{"p":"PC 4","x":2.87,"y":0.064,"c":"B"},{"p":"PC 4","x":2.92,"y":-0.049,"c":"B"},{"p":"PC 4","x":2.97,"y":0.036,"c":"B"},
{"p":"PC 4","x":2.05,"y":-0.039,"c":"B"},{"p":"PC 4","x":2.15,"y":0.068,"c":"B"},{"p":"PC 4","x":2.25,"y":-0.024,"c":"B"},{"p":"PC 4","x":2.35,"y":0.043,"c":"B"},{"p":"PC 4","x":2.45,"y":-0.062,"c":"B"},{"p":"PC 4","x":2.55,"y":0.079,"c":"B"},{"p":"PC 4","x":2.65,"y":-0.034,"c":"B"},{"p":"PC 4","x":2.75,"y":0.018,"c":"B"},{"p":"PC 4","x":2.85,"y":-0.072,"c":"B"},{"p":"PC 4","x":2.95,"y":0.057,"c":"B"},
{"p":"PC 4","x":2.2,"y":0,"c":"B"},{"p":"PC 4","x":2.3,"y":0,"c":"B"},{"p":"PC 4","x":2.4,"y":0,"c":"B"},{"p":"PC 4","x":2.5,"y":0,"c":"B"},{"p":"PC 4","x":2.6,"y":0,"c":"B"},{"p":"PC 4","x":2.7,"y":0,"c":"B"},{"p":"PC 4","x":2.8,"y":0,"c":"B"},{"p":"PC 4","x":2.9,"y":0,"c":"B"},{"p":"PC 4","x":3,"y":0,"c":"B"},
{"p":"PC 4","x":1.27,"y":0.169,"c":"B"},{"p":"PC 4","x":0.41,"y":0.132,"c":"B"},{"p":"PC 4","x":0.26,"y":0.109,"c":"B"},{"p":"PC 4","x":0.52,"y":0.106,"c":"B"},{"p":"PC 4","x":1.7,"y":0.128,"c":"B"},{"p":"PC 4","x":2.4,"y":0.143,"c":"B"},{"p":"PC 4","x":2.58,"y":0.115,"c":"B"},{"p":"PC 4","x":2.68,"y":0.103,"c":"B"},{"p":"PC 4","x":2.96,"y":0.104,"c":"B"},{"p":"PC 4","x":1.02,"y":0.086,"c":"B"},{"p":"PC 4","x":1.2,"y":0.09,"c":"B"},{"p":"PC 4","x":0.22,"y":0.07,"c":"B"},{"p":"PC 4","x":1.51,"y":0.082,"c":"B"},{"p":"PC 4","x":0.2,"y":-0.147,"c":"B"},{"p":"PC 4","x":0.26,"y":-0.113,"c":"B"},{"p":"PC 4","x":0.92,"y":-0.127,"c":"B"},{"p":"PC 4","x":0.83,"y":-0.098,"c":"B"},{"p":"PC 4","x":1.4,"y":-0.148,"c":"B"},{"p":"PC 4","x":1.68,"y":-0.168,"c":"B"},{"p":"PC 4","x":1.28,"y":-0.113,"c":"B"},{"p":"PC 4","x":2.25,"y":-0.142,"c":"B"},{"p":"PC 4","x":2.45,"y":-0.13,"c":"B"},{"p":"PC 4","x":2.82,"y":-0.135,"c":"B"},{"p":"PC 4","x":2.7,"y":-0.098,"c":"B"},
{"p":"PC 4","x":0.1,"y":0.045,"c":"B"},{"p":"PC 4","x":0.2,"y":-0.085,"c":"B"},{"p":"PC 4","x":0.3,"y":0.092,"c":"B"},{"p":"PC 4","x":0.4,"y":-0.041,"c":"B"},{"p":"PC 4","x":0.5,"y":0.062,"c":"B"},{"p":"PC 4","x":0.6,"y":-0.095,"c":"B"},{"p":"PC 4","x":0.7,"y":0.012,"c":"B"},{"p":"PC 4","x":0.8,"y":0.094,"c":"B"},{"p":"PC 4","x":0.9,"y":-0.088,"c":"B"},{"p":"PC 4","x":1.0,"y":0.051,"c":"B"},{"p":"PC 4","x":1.1,"y":-0.073,"c":"B"},{"p":"PC 4","x":1.3,"y":0.041,"c":"B"},{"p":"PC 4","x":1.4,"y":-0.091,"c":"B"},{"p":"PC 4","x":1.5,"y":0.097,"c":"B"},{"p":"PC 4","x":1.6,"y":-0.049,"c":"B"},{"p":"PC 4","x":1.7,"y":0.084,"c":"B"},{"p":"PC 4","x":1.8,"y":-0.02,"c":"B"},{"p":"PC 4","x":1.9,"y":0.063,"c":"B"},{"p":"PC 4","x":2.1,"y":-0.092,"c":"B"},{"p":"PC 4","x":2.2,"y":0.094,"c":"B"},{"p":"PC 4","x":2.3,"y":-0.081,"c":"B"},{"p":"PC 4","x":2.4,"y":0.021,"c":"B"},{"p":"PC 4","x":2.5,"y":-0.043,"c":"B"},{"p":"PC 4","x":2.6,"y":0.088,"c":"B"},{"p":"PC 4","x":2.7,"y":-0.09,"c":"B"},{"p":"PC 4","x":2.8,"y":0.046,"c":"B"},{"p":"PC 4","x":2.9,"y":-0.06,"c":"B"},{"p":"PC 4","x":3.0,"y":0.072,"c":"B"},{"p":"PC 4","x":0.33,"y":-0.101,"c":"B"},{"p":"PC 4","x":1.63,"y":0.059,"c":"B"},
{"p":"PC 5","x":0.03,"y":0.055,"c":"S"},{"p":"PC 5","x":0.05,"y":-0.071,"c":"S"},{"p":"PC 5","x":0.07,"y":-0.026,"c":"S"},{"p":"PC 5","x":0,"y":0,"c":"S"},
{"p":"PC 5","x":0.12,"y":0.031,"c":"B"},{"p":"PC 5","x":0.17,"y":-0.054,"c":"B"},{"p":"PC 5","x":0.22,"y":0.072,"c":"B"},{"p":"PC 5","x":0.27,"y":-0.018,"c":"B"},{"p":"PC 5","x":0.32,"y":0.046,"c":"B"},{"p":"PC 5","x":0.37,"y":-0.081,"c":"B"},{"p":"PC 5","x":0.42,"y":0.012,"c":"B"},{"p":"PC 5","x":0.47,"y":-0.037,"c":"B"},{"p":"PC 5","x":0.52,"y":0.065,"c":"B"},{"p":"PC 5","x":0.57,"y":-0.062,"c":"B"},{"p":"PC 5","x":0.62,"y":0.024,"c":"B"},{"p":"PC 5","x":0.67,"y":-0.029,"c":"B"},{"p":"PC 5","x":0.72,"y":0.057,"c":"B"},{"p":"PC 5","x":0.77,"y":-0.074,"c":"B"},{"p":"PC 5","x":0.82,"y":0.038,"c":"B"},{"p":"PC 5","x":0.87,"y":-0.008,"c":"B"},{"p":"PC 5","x":0.92,"y":0.069,"c":"B"},{"p":"PC 5","x":0.97,"y":-0.047,"c":"B"},
{"p":"PC 5","x":0.15,"y":0,"c":"B"},{"p":"PC 5","x":0.25,"y":0,"c":"B"},{"p":"PC 5","x":0.35,"y":0,"c":"B"},{"p":"PC 5","x":0.45,"y":0,"c":"B"},{"p":"PC 5","x":0.55,"y":0,"c":"B"},{"p":"PC 5","x":0.65,"y":0,"c":"B"},{"p":"PC 5","x":0.75,"y":0,"c":"B"},{"p":"PC 5","x":0.85,"y":0,"c":"B"},{"p":"PC 5","x":0.95,"y":0,"c":"B"},
{"p":"PC 5","x":1.13,"y":0.043,"c":"S"},{"p":"PC 5","x":1.04,"y":-0.023,"c":"S"},{"p":"PC 5","x":1.05,"y":-0.059,"c":"S"},{"p":"PC 5","x":1.09,"y":-0.101,"c":"S"},{"p":"PC 5","x":1.06,"y":0,"c":"S"},
{"p":"PC 5","x":1.02,"y":0.016,"c":"B"},{"p":"PC 5","x":1.07,"y":-0.059,"c":"B"},{"p":"PC 5","x":1.12,"y":0.049,"c":"B"},{"p":"PC 5","x":1.17,"y":-0.022,"c":"B"},{"p":"PC 5","x":1.22,"y":0.077,"c":"B"},{"p":"PC 5","x":1.27,"y":-0.043,"c":"B"},{"p":"PC 5","x":1.32,"y":0.027,"c":"B"},{"p":"PC 5","x":1.37,"y":-0.066,"c":"B"},{"p":"PC 5","x":1.42,"y":0.054,"c":"B"},{"p":"PC 5","x":1.47,"y":-0.015,"c":"B"},{"p":"PC 5","x":1.52,"y":0.06,"c":"B"},{"p":"PC 5","x":1.57,"y":-0.052,"c":"B"},{"p":"PC 5","x":1.62,"y":0.019,"c":"B"},{"p":"PC 5","x":1.67,"y":-0.07,"c":"B"},{"p":"PC 5","x":1.72,"y":0.044,"c":"B"},{"p":"PC 5","x":1.77,"y":-0.033,"c":"B"},{"p":"PC 5","x":1.82,"y":0.075,"c":"B"},{"p":"PC 5","x":1.87,"y":-0.011,"c":"B"},{"p":"PC 5","x":1.92,"y":0.035,"c":"B"},{"p":"PC 5","x":1.97,"y":-0.064,"c":"B"},
{"p":"PC 5","x":1.2,"y":0,"c":"B"},{"p":"PC 5","x":1.3,"y":0,"c":"B"},{"p":"PC 5","x":1.4,"y":0,"c":"B"},{"p":"PC 5","x":1.5,"y":0,"c":"B"},{"p":"PC 5","x":1.6,"y":0,"c":"B"},{"p":"PC 5","x":1.7,"y":0,"c":"B"},{"p":"PC 5","x":1.8,"y":0,"c":"B"},{"p":"PC 5","x":1.85,"y":0,"c":"B"},
{"p":"PC 5","x":2.0,"y":0.122,"c":"S"},{"p":"PC 5","x":2.08,"y":0.121,"c":"S"},{"p":"PC 5","x":2.15,"y":0.076,"c":"S"},{"p":"PC 5","x":1.96,"y":-0.035,"c":"S"},{"p":"PC 5","x":2.04,"y":-0.041,"c":"S"},{"p":"PC 5","x":2.0,"y":0.037,"c":"S"},{"p":"PC 5","x":2.02,"y":0.002,"c":"S"},
{"p":"PC 5","x":2.02,"y":0.058,"c":"B"},{"p":"PC 5","x":2.07,"y":-0.026,"c":"B"},{"p":"PC 5","x":2.12,"y":0.041,"c":"B"},{"p":"PC 5","x":2.17,"y":-0.078,"c":"B"},{"p":"PC 5","x":2.22,"y":0.022,"c":"B"},{"p":"PC 5","x":2.27,"y":-0.039,"c":"B"},{"p":"PC 5","x":2.32,"y":0.07,"c":"B"},{"p":"PC 5","x":2.37,"y":-0.056,"c":"B"},{"p":"PC 5","x":2.42,"y":0.013,"c":"B"},{"p":"PC 5","x":2.47,"y":-0.071,"c":"B"},{"p":"PC 5","x":2.52,"y":0.048,"c":"B"},{"p":"PC 5","x":2.57,"y":-0.017,"c":"B"},{"p":"PC 5","x":2.62,"y":0.063,"c":"B"},{"p":"PC 5","x":2.67,"y":-0.045,"c":"B"},{"p":"PC 5","x":2.72,"y":0.029,"c":"B"},{"p":"PC 5","x":2.77,"y":-0.061,"c":"B"},{"p":"PC 5","x":2.82,"y":0.053,"c":"B"},{"p":"PC 5","x":2.87,"y":-0.024,"c":"B"},{"p":"PC 5","x":2.92,"y":0.081,"c":"B"},{"p":"PC 5","x":2.97,"y":-0.036,"c":"B"},
{"p":"PC 5","x":2.2,"y":0,"c":"B"},{"p":"PC 5","x":2.3,"y":0,"c":"B"},{"p":"PC 5","x":2.4,"y":0,"c":"B"},{"p":"PC 5","x":2.5,"y":0,"c":"B"},{"p":"PC 5","x":2.6,"y":0,"c":"B"},{"p":"PC 5","x":2.7,"y":0,"c":"B"},{"p":"PC 5","x":2.8,"y":0,"c":"B"},{"p":"PC 5","x":2.9,"y":0,"c":"B"},{"p":"PC 5","x":3,"y":0,"c":"B"},
{"p":"PC 5","x":2.19,"y":0.22,"c":"B"},{"p":"PC 5","x":2.86,"y":0.172,"c":"B"},{"p":"PC 5","x":2.87,"y":0.166,"c":"B"},{"p":"PC 5","x":0.28,"y":0.152,"c":"B"},{"p":"PC 5","x":1.42,"y":0.134,"c":"B"},{"p":"PC 5","x":1.77,"y":0.142,"c":"B"},{"p":"PC 5","x":2.49,"y":0.137,"c":"B"},{"p":"PC 5","x":1.81,"y":0.106,"c":"B"},{"p":"PC 5","x":1.92,"y":0.09,"c":"B"},{"p":"PC 5","x":2.3,"y":0.104,"c":"B"},{"p":"PC 5","x":2.58,"y":0.109,"c":"B"},{"p":"PC 5","x":2.83,"y":0.103,"c":"B"},{"p":"PC 5","x":2.89,"y":0.091,"c":"B"},{"p":"PC 5","x":0.64,"y":0.085,"c":"B"},{"p":"PC 5","x":0.86,"y":0.073,"c":"B"},{"p":"PC 5","x":1.39,"y":0.076,"c":"B"},{"p":"PC 5","x":0.13,"y":-0.165,"c":"B"},{"p":"PC 5","x":0.28,"y":-0.129,"c":"B"},{"p":"PC 5","x":0.52,"y":-0.129,"c":"B"},{"p":"PC 5","x":0.64,"y":-0.118,"c":"B"},{"p":"PC 5","x":0.98,"y":-0.124,"c":"B"},{"p":"PC 5","x":1.19,"y":-0.229,"c":"B"},{"p":"PC 5","x":1.57,"y":-0.144,"c":"B"},{"p":"PC 5","x":1.85,"y":-0.151,"c":"B"},{"p":"PC 5","x":1.9,"y":-0.175,"c":"B"},{"p":"PC 5","x":2.42,"y":-0.129,"c":"B"},{"p":"PC 5","x":2.76,"y":-0.183,"c":"B"},{"p":"PC 5","x":2.91,"y":-0.113,"c":"B"},{"p":"PC 5","x":2.27,"y":-0.101,"c":"B"},{"p":"PC 5","x":1.81,"y":-0.107,"c":"B"},{"p":"PC 5","x":1.43,"y":-0.093,"c":"B"},{"p":"PC 5","x":1.24,"y":-0.08,"c":"B"},{"p":"PC 5","x":0.98,"y":-0.114,"c":"B"},{"p":"PC 5","x":0.43,"y":-0.065,"c":"B"},{"p":"PC 5","x":0.22,"y":-0.047,"c":"B"},
{"p":"PC 5","x":0.2,"y":0.092,"c":"B"},{"p":"PC 5","x":0.45,"y":-0.098,"c":"B"},{"p":"PC 5","x":0.75,"y":0.099,"c":"B"},{"p":"PC 5","x":1.0,"y":-0.083,"c":"B"},{"p":"PC 5","x":1.3,"y":0.091,"c":"B"},{"p":"PC 5","x":1.6,"y":-0.097,"c":"B"},{"p":"PC 5","x":1.95,"y":0.063,"c":"B"},{"p":"PC 5","x":2.2,"y":-0.061,"c":"B"},{"p":"PC 5","x":2.45,"y":0.094,"c":"B"},{"p":"PC 5","x":2.7,"y":-0.092,"c":"B"},{"p":"PC 5","x":2.95,"y":0.039,"c":"B"},{"p":"PC 5","x":0.55,"y":0.04,"c":"B"},{"p":"PC 5","x":1.45,"y":-0.041,"c":"B"},{"p":"PC 5","x":2.35,"y":0.035,"c":"B"},{"p":"PC 5","x":2.85,"y":-0.076,"c":"B"}
]},
"transform":[{"lookup":"c","from":{"data":{"values":[{"c":"B","group":"Background features"},{"c":"S","group":"Signal features"}]},"key":"c","fields":["group"]}}],
"facet":{"column":{"field":"p","type":"nominal","title":"Degrees of sparsity for features (x1000)"}},
"spacing":15,
"spec":{
"width":145,"height":285,
"mark":{"type":"point","filled":true,"opacity":0.75},
"encoding":{
"x":{"field":"x","type":"quantitative","scale":{"domain":[-0.15,3.15],"nice":false,"zero":false},"axis":{"title":null,"values":[0,0.5,1,1.5,2,2.5,3],"format":"d","labelExpr":"datum.value % 1 === 0 ? datum.label : ''","gridWidth":{"condition":{"test":"datum.value % 1 !== 0","value":1.2},"value":2.2}}},
"y":{"field":"y","type":"quantitative","scale":{"domain":[-0.268,0.243],"nice":false,"zero":false},"axis":{"title":"Right eigenvectors (Loadings)","values":[-0.25,-0.2,-0.15,-0.1,-0.05,0,0.05,0.1,0.15,0.2],"format":".1f","labelExpr":"abs(datum.value*10 - round(datum.value*10)) < 0.001 ? datum.label : ''","gridWidth":{"condition":{"test":"abs(datum.value*10 - round(datum.value*10)) > 0.001","value":1.2},"value":2.2}}},
"color":{"field":"group","type":"nominal","scale":{"domain":["Background features","Signal features"],"range":["#4C02A1","#F89540"]},"legend":{"title":["Features","groups"],"orient":"none","legendX":832,"legendY":63}},
"shape":{"field":"group","type":"nominal","scale":{"domain":["Background features","Signal features"],"range":["circle","triangle-up"]},"legend":{"title":["Features","groups"],"orient":"none","legendX":832,"legendY":63}},
"size":{"field":"group","type":"nominal","scale":{"domain":["Background features","Signal features"],"range":[110,160]},"legend":null}
}
}
}
]
}
